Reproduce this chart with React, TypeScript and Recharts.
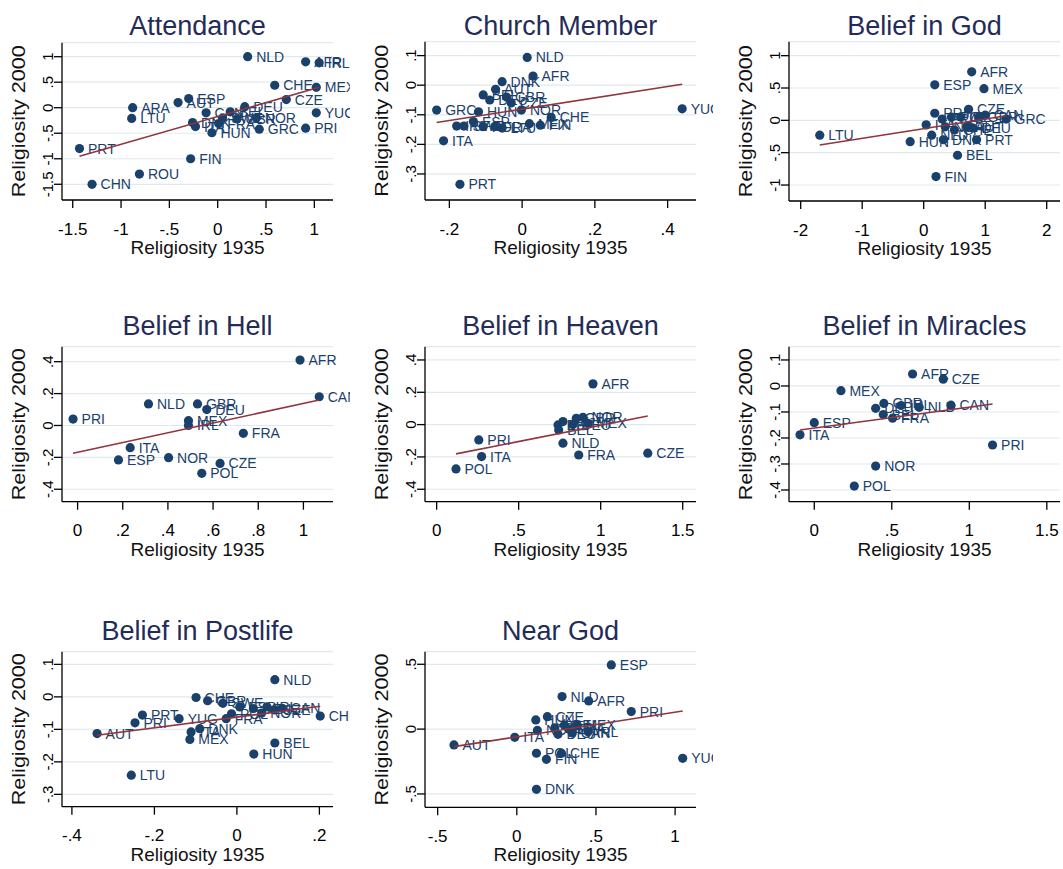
import React from 'react';
import { ScatterChart, Scatter, XAxis, YAxis, CartesianGrid } from 'recharts';

type Pt = [string, number, number];

// ---------- data ----------
const attendancePts: Pt[] = [
  ['NLD', 0.31, 1.0], ['AFR', 0.91, 0.9], ['IRL', 1.05, 0.88], ['CHE', 0.59, 0.44],
  ['MEX', 1.02, 0.4], ['CZE', 0.71, 0.16], ['YUG', 1.02, -0.1], ['PRI', 0.91, -0.4],
  ['GRC', 0.43, -0.42], ['HUN', -0.06, -0.49], ['AUT', -0.41, 0.1], ['ESP', -0.3, 0.18],
  ['ARA', -0.88, 0.0], ['LTU', -0.89, -0.21], ['PRT', -1.43, -0.8], ['FIN', -0.28, -1.0],
  ['ROU', -0.81, -1.3], ['CHN', -1.3, -1.5], ['CAN', -0.12, -0.1], ['DNK', -0.26, -0.29],
  ['ITA', -0.23, -0.37], ['FRA', 0.01, -0.31], ['BEL', 0.13, -0.08], ['SWE', 0.05, -0.2],
  ['GBR', 0.2, -0.22], ['DEU', 0.28, 0.02], ['NOR', 0.4, -0.2],
];
const attendanceFit = [-0.172, 0.544];
const attendanceXTicks = [-1.5, -1, -0.5, 0, 0.5, 1];
const attendanceYTicks = [-1.5, -1, -0.5, 0, 0.5, 1];

const churchPts: Pt[] = [
  ['NLD', 0.014, 0.094], ['AFR', 0.03, 0.031], ['YUG', 0.44, -0.08], ['GRC', -0.235, -0.084],
  ['ITA', -0.216, -0.188], ['PRT', -0.171, -0.335], ['CHE', 0.08, -0.109], ['FIN', 0.05, -0.135],
  ['DNK', -0.055, 0.012], ['AUT', -0.073, -0.014], ['BEL', -0.107, -0.033], ['GBR', -0.043, -0.04],
  ['DEU', -0.089, -0.05], ['NOR', -0.002, -0.084], ['HUN', -0.12, -0.09], ['ESP', -0.134, -0.123],
  ['IRL', -0.18, -0.138], ['POL', -0.107, -0.14], ['FRA', -0.075, -0.14], ['LTU', -0.055, -0.145],
  ['MEX', 0.02, -0.13], ['CZE', -0.03, -0.06], ['SWE', -0.16, -0.138],
];
const churchFit = [-0.081, 0.191];
const churchXTicks = [-0.2, 0, 0.2, 0.4];
const churchYTicks = [-0.3, -0.2, -0.1, 0, 0.1];

const godPts: Pt[] = [
  ['AFR', 0.78, 0.75], ['ESP', 0.18, 0.55], ['MEX', 0.98, 0.49], ['GRC', 1.34, 0.02],
  ['LTU', -1.69, -0.23], ['HUN', -0.22, -0.33], ['BEL', 0.55, -0.54], ['FIN', 0.2, -0.87],
  ['PRI', 0.18, 0.11], ['CZE', 0.73, 0.17], ['ITA', 0.04, -0.07], ['NLD', 0.13, -0.23],
  ['DNK', 0.32, -0.3], ['PRT', 0.86, -0.3], ['AUT', 0.7, -0.1], ['POL', 0.45, 0.05],
  ['IRL', 0.6, 0.05], ['FRA', 0.3, 0.02], ['GBR', 0.9, 0.05], ['CHE', 0.5, -0.15],
  ['NOR', 0.35, -0.1], ['CAN', 1.0, 0.08], ['DEU', 0.8, -0.12],
];
const godFit = [-0.129, 0.1485];
const godXTicks = [-2, -1, 0, 1, 2];
const godYTicks = [-1, -0.5, 0, 0.5, 1];

const hellPts: Pt[] = [
  ['AFR', 0.985, 0.41], ['CAN', 1.07, 0.18], ['PRI', -0.02, 0.04], ['NLD', 0.314, 0.135],
  ['GBR', 0.531, 0.135], ['DEU', 0.572, 0.1], ['MEX', 0.491, 0.03], ['IRL', 0.491, 0.0],
  ['FRA', 0.734, -0.049], ['ITA', 0.233, -0.139], ['ESP', 0.181, -0.216], ['NOR', 0.403, -0.202],
  ['CZE', 0.631, -0.238], ['POL', 0.55, -0.3],
];
const hellFit = [-0.168, 0.306];
const hellXTicks = [0, 0.2, 0.4, 0.6, 0.8, 1];
const hellYTicks = [-0.4, -0.2, 0, 0.2, 0.4];

const heavenPts: Pt[] = [
  ['AFR', 0.953, 0.252], ['PRI', 0.257, -0.095], ['ITA', 0.274, -0.198], ['POL', 0.118, -0.274],
  ['CZE', 1.287, -0.177], ['FRA', 0.866, -0.188], ['NLD', 0.77, -0.115], ['ESP', 0.74, -0.002],
  ['IRL', 0.77, 0.019], ['BEL', 0.744, -0.033], ['GBR', 0.851, 0.039], ['NOR', 0.892, 0.045],
  ['MEX', 0.922, 0.008], ['DEU', 0.83, 0.0],
];
const heavenFit = [-0.205, 0.201];
const heavenXTicks = [0, 0.5, 1, 1.5];
const heavenYTicks = [-0.4, -0.2, 0, 0.2, 0.4];

const miraclesPts: Pt[] = [
  ['AFR', 0.634, 0.046], ['CZE', 0.832, 0.026], ['MEX', 0.172, -0.018], ['CAN', 0.882, -0.074],
  ['NLD', 0.677, -0.082], ['DEU', 0.396, -0.086], ['GBR', 0.449, -0.067], ['IRL', 0.56, -0.075],
  ['BEL', 0.445, -0.11], ['FRA', 0.505, -0.124], ['ESP', 0.0, -0.141], ['ITA', -0.092, -0.188],
  ['PRI', 1.15, -0.227], ['NOR', 0.396, -0.308], ['POL', 0.258, -0.385],
];
const miraclesFit = [-0.162, 0.0805];
const miraclesXTicks = [0, 0.5, 1, 1.5];
const miraclesYTicks = [-0.4, -0.3, -0.2, -0.1, 0, 0.1];

const postlifePts: Pt[] = [
  ['NLD', 0.092, 0.053], ['CHN', 0.202, -0.059], ['BEL', 0.092, -0.142], ['HUN', 0.041, -0.176],
  ['LTU', -0.256, -0.241], ['AUT', -0.339, -0.113], ['PRT', -0.229, -0.056], ['PRI', -0.247, -0.08],
  ['YUG', -0.14, -0.067], ['CHE', -0.099, -0.002], ['GBR', -0.071, -0.012], ['MEX', -0.114, -0.131],
  ['ITA', -0.111, -0.108], ['DNK', -0.09, -0.098], ['FRA', -0.026, -0.067], ['ESP', 0.007, -0.031],
  ['DEU', 0.04, -0.036], ['IRL', 0.073, -0.031], ['CZE', 0.09, -0.04], ['SWE', -0.034, -0.02],
  ['POL', -0.013, -0.052], ['NOR', 0.06, -0.05], ['CAN', 0.11, -0.035],
];
const postlifeFit = [-0.0622, 0.1645];
const postlifeXTicks = [-0.4, -0.2, 0, 0.2];
const postlifeYTicks = [-0.3, -0.2, -0.1, 0, 0.1];

const nearPts: Pt[] = [
  ['ESP', 0.597, 0.495], ['NLD', 0.286, 0.251], ['AFR', 0.454, 0.217], ['PRI', 0.723, 0.135],
  ['YUG', 1.048, -0.225], ['AUT', -0.397, -0.122], ['ITA', -0.013, -0.063], ['DNK', 0.124, -0.464],
  ['FIN', 0.187, -0.233], ['POL', 0.124, -0.186], ['CHE', 0.282, -0.186], ['CZE', 0.193, 0.096],
  ['HUN', 0.12, 0.071], ['MEX', 0.38, 0.03], ['GBR', 0.24, 0.01], ['BEL', 0.3, 0.03],
  ['FRA', 0.33, 0.0], ['IRL', 0.45, -0.02], ['DEU', 0.26, -0.04], ['NOR', 0.13, -0.01],
  ['CAN', 0.35, -0.03],
];
const nearFit = [-0.0596, 0.19];
const nearXTicks = [-0.5, 0, 0.5, 1];
const nearYTicks = [-0.5, 0, 0.5];

// ---------- layout ----------
const FONT = '"Liberation Sans", Arial, Helvetica, sans-serif';
const NAVY = '#1a406c';
const MAROON = '#90353b';
const TITLE = '#232b58';
const GRID = '#e0e9ed';
const CHART_W = 350;
const CHART_H = 270;
const AXIS_X = 62;
const PLOT_R = 333;
const COLS = [0, 363, 727];
const ROWS = [0, 300, 605];

const panels = [
  { title: 'Attendance', pts: attendancePts, fit: attendanceFit, xd: [-1.611, 1.193], yd: [-1.808, 1.274], xt: attendanceXTicks, yt: attendanceYTicks, col: 0, row: 0, top: 42.7, bottom: 200 },
  { title: 'Church Member', pts: churchPts, fit: churchFit, xd: [-0.267, 0.478], yd: [-0.388, 0.147], xt: churchXTicks, yt: churchYTicks, col: 1, row: 0, top: 41.7, bottom: 200 },
  { title: 'Belief in God', pts: godPts, fit: godFit, xd: [-2.19, 2.216], yd: [-1.247, 1.216], xt: godXTicks, yt: godYTicks, col: 2, row: 0, top: 41.7, bottom: 201 },
  { title: 'Belief in Hell', pts: hellPts, fit: hellFit, xd: [-0.069, 1.131], yd: [-0.478, 0.494], xt: hellXTicks, yt: hellYTicks, col: 0, row: 1, top: 46.7, bottom: 201.7 },
  { title: 'Belief in Heaven', pts: heavenPts, fit: heavenFit, xd: [-0.071, 1.581], yd: [-0.477, 0.482], xt: heavenXTicks, yt: heavenYTicks, col: 1, row: 1, top: 46.7, bottom: 201.7 },
  { title: 'Belief in Miracles', pts: miraclesPts, fit: miraclesFit, xd: [-0.163, 1.585], yd: [-0.445, 0.151], xt: miraclesXTicks, yt: miraclesYTicks, col: 2, row: 1, top: 46.7, bottom: 201.7 },
  { title: 'Belief in Postlife', pts: postlifePts, fit: postlifeFit, xd: [-0.424, 0.233], yd: [-0.338, 0.139], xt: postlifeXTicks, yt: postlifeYTicks, col: 0, row: 2, top: 46.7, bottom: 201.7 },
  { title: 'Near God', pts: nearPts, fit: nearFit, xd: [-0.58, 1.132], yd: [-0.603, 0.597], xt: nearXTicks, yt: nearYTicks, col: 1, row: 2, top: 46.7, bottom: 202.3 },
];

const fmt = (v: number) => {
  const s = String(Math.round(v * 100) / 100);
  return s.replace(/^(-?)0\./, '$1.');
};

const XTick = (p: any) => (
  <text x={p.x} y={p.y + 26.5} textAnchor="middle" fontSize={17} fill="#000" fontFamily={FONT}>
    {fmt(p.payload.value)}
  </text>
);

const YTick = (p: any) => (
  <text
    x={p.x - 0.5}
    y={p.y}
    transform={`rotate(-90 ${p.x - 0.5} ${p.y})`}
    textAnchor="middle"
    fontSize={15}
    fill="#000"
    fontFamily={FONT}
  >
    {fmt(p.payload.value)}
  </text>
);

const Dot = (p: any) => {
  if (p.cx == null || p.cy == null) return <g />;
  return (
    <g>
      <circle cx={p.cx} cy={p.cy} r={4.6} fill={NAVY} />
      <text x={p.cx + 8.5} y={p.cy + 5} fontSize={14} fill={NAVY} fontFamily={FONT}>
        {p.payload.c}
      </text>
    </g>
  );
};

const NoDot = () => <g />;

function Panel({ cfg }: { cfg: (typeof panels)[number] }) {
  const data = cfg.pts.map(([c, x, y]) => ({ c, x, y }));
  const xs = cfg.pts.map((p) => p[1]);
  const x0 = Math.min(...xs);
  const x1 = Math.max(...xs);
  const [a, b] = cfg.fit;
  const fitData = [
    { x: x0, y: a + b * x0 },
    { x: x1, y: a + b * x1 },
  ];
  const left = COLS[cfg.col];
  const top = ROWS[cfg.row];
  const plotMidY = (cfg.top + cfg.bottom) / 2;
  return (
    <div style={{ position: 'absolute', left, top, width: CHART_W, height: CHART_H }}>
      <ScatterChart
        width={CHART_W}
        height={CHART_H}
        margin={{ top: cfg.top, right: CHART_W - PLOT_R, bottom: 0, left: 0 }}
      >
        <CartesianGrid vertical={false} stroke={GRID} strokeWidth={1.2} />
        <XAxis
          type="number"
          dataKey="x"
          domain={cfg.xd}
          ticks={cfg.xt}
          interval={0}
          height={CHART_H - cfg.bottom}
          tickSize={8}
          tickMargin={0}
          tick={<XTick />}
          axisLine={{ stroke: '#000', strokeWidth: 1.3 }}
          tickLine={{ stroke: '#000', strokeWidth: 1.3 }}
        />
        <YAxis
          type="number"
          dataKey="y"
          domain={cfg.yd}
          ticks={cfg.yt}
          interval={0}
          width={AXIS_X}
          tickSize={8}
          tickMargin={0}
          tick={<YTick />}
          axisLine={{ stroke: '#000', strokeWidth: 1.3 }}
          tickLine={{ stroke: '#000', strokeWidth: 1.3 }}
        />
        <Scatter data={data} shape={<Dot />} isAnimationActive={false} />
        <Scatter
          data={fitData}
          line={{ stroke: MAROON, strokeWidth: 1.6 }}
          lineType="joint"
          shape={<NoDot />}
          isAnimationActive={false}
        />
      </ScatterChart>
      <svg
        width={CHART_W}
        height={CHART_H + 20}
        style={{ position: 'absolute', left: 0, top: 0, pointerEvents: 'none', overflow: 'visible' }}
      >
        <text
          x={(AXIS_X + PLOT_R) / 2}
          y={34.5}
          textAnchor="middle"
          fontSize={27}
          fill={TITLE}
          fontFamily={FONT}
        >
          {cfg.title}
        </text>
        <text
          x={(AXIS_X + PLOT_R) / 2}
          y={cfg.bottom + 54}
          textAnchor="middle"
          fontSize={19}
          fill="#111"
          fontFamily={FONT}
        >
          Religiosity 1935
        </text>
        <text
          x={25}
          y={plotMidY}
          transform={`rotate(-90 25 ${plotMidY})`}
          textAnchor="middle"
          fontSize={19}
          fill="#111"
          fontFamily={FONT}
          textLength={152}
          lengthAdjust="spacingAndGlyphs"
        >
          Religiosity 2000
        </text>
      </svg>
    </div>
  );
}

export default function App() {
  return (
    <div style={{ position: 'absolute', left: 0, top: 0, width: 1063, height: 869, background: '#fff', overflow: 'hidden' }}>
      {panels.map((p) => (
        <Panel key={p.title} cfg={p} />
      ))}
    </div>
  );
}
